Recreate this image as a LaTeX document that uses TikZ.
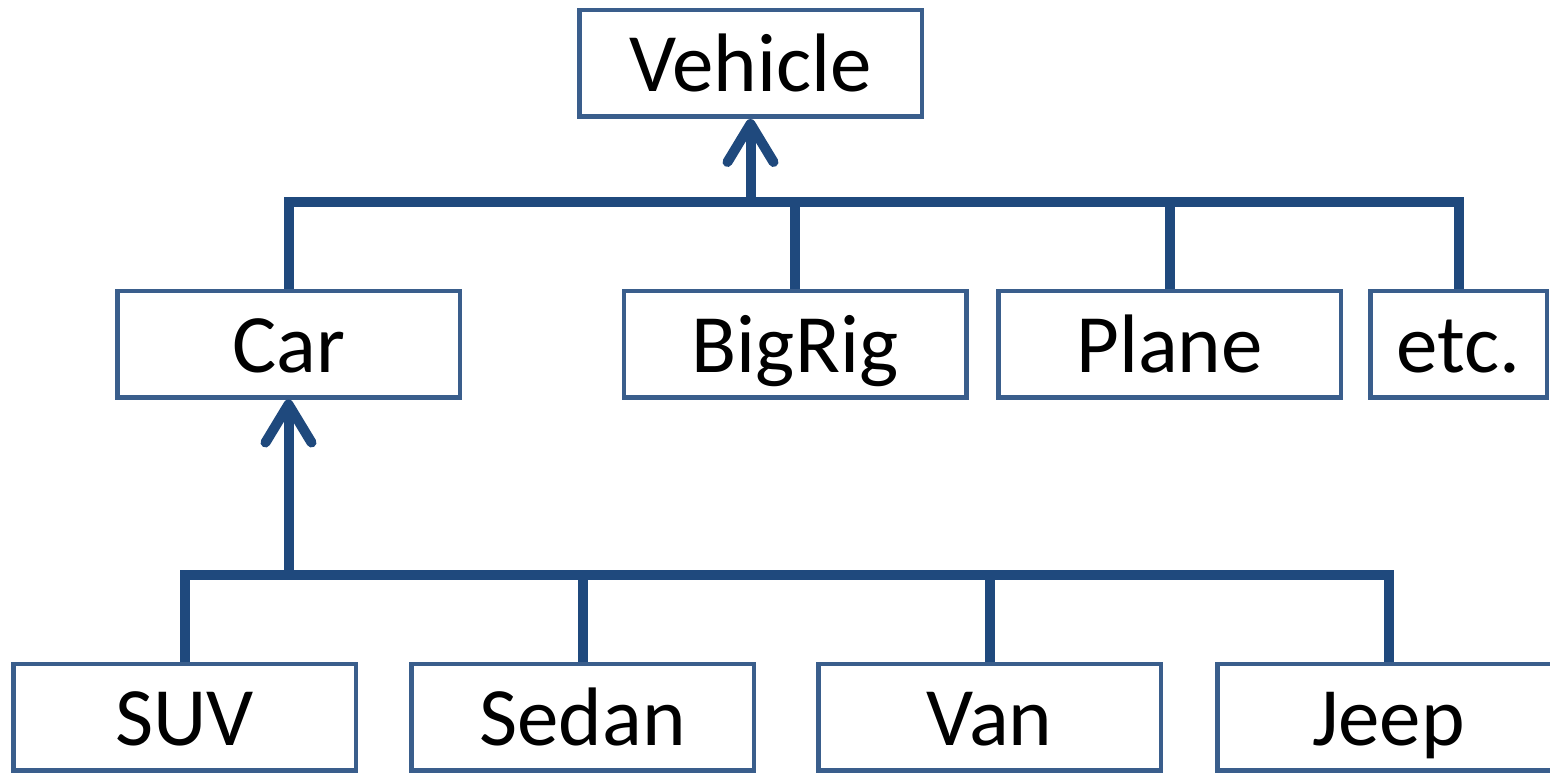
\documentclass[tikz,border=0pt]{standalone}
\usepackage{fontspec}
\setmainfont{Carlito}
\usetikzlibrary{arrows.meta}
\definecolor{boxline}{RGB}{58,94,140}
\definecolor{connline}{RGB}{31,73,125}
\tikzset{
  classbox/.style={draw=boxline, line width=4.5pt, fill=white, rectangle,
    minimum width=342.5pt, minimum height=106.5pt, inner sep=0pt,
    text height=62pt, text depth=6pt,
    font=\fontsize{83}{99}\selectfont},
  conn/.style={draw=connline, line width=10pt, line join=miter},
  inherit/.style={conn, -{Straight Barb[round, length=38pt, width=46pt]}}
}
\begin{document}
\begin{tikzpicture}[x=1pt, y=-1pt]
\useasboundingbox (0,0) rectangle (1550,773);

% class boxes
\node[classbox] (vehicle) at (750.5,63.5) {Vehicle};
\node[classbox] (car)     at (288.5,344) {Car};
\node[classbox] (bigrig)  at (795,344) {BigRig};
\node[classbox] (plane)   at (1169.5,344) {Plane};
\node[classbox, minimum width=176.5pt] (etc) at (1458.5,344) {etc.};
\node[classbox] (suv)     at (184.5,717) {SUV};
\node[classbox] (sedan)   at (582.5,717) {Sedan};
\node[classbox] (van)     at (989.5,717) {Van};
\node[classbox] (jeep)    at (1388.5,717) {Jeep};

% bus coordinates
\coordinate (topbus) at (750.5,202);
\coordinate (carbus) at (288.5,575);

% Vehicle subclasses
\draw[conn] (car.north) |- (etc.north |- topbus) -- (etc.north);
\draw[conn] (bigrig.north) -- (bigrig.north |- topbus);
\draw[conn] (plane.north) -- (plane.north |- topbus);
\draw[inherit] (topbus) -- (vehicle.south);

% Car subclasses
\draw[conn] (suv.north) |- (jeep.north |- carbus) -- (jeep.north);
\draw[conn] (sedan.north) -- (sedan.north |- carbus);
\draw[conn] (van.north) -- (van.north |- carbus);
\draw[inherit] (carbus) -- (car.south);
\end{tikzpicture}
\end{document}
